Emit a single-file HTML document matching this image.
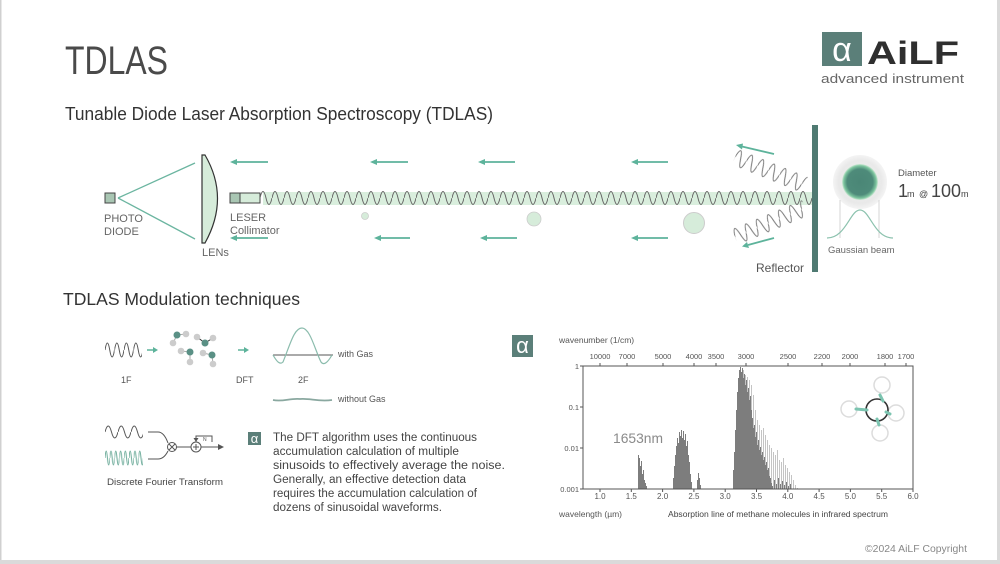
<!DOCTYPE html>
<html><head><meta charset="utf-8"><style>
html,body{margin:0;padding:0;background:#fff;}
svg{display:block;}
text{font-family:"Liberation Sans",sans-serif;}
</style></head><body>
<svg width="1000" height="564" viewBox="0 0 1000 564" xmlns="http://www.w3.org/2000/svg">
<defs>
<pattern id="w1" patternUnits="userSpaceOnUse" x="260" y="190" width="12" height="16"><path d="M0,8 Q3,-5 6,8 T12,8" fill="none" stroke="#666" stroke-width="1"/></pattern>
<pattern id="w2" patternUnits="userSpaceOnUse" x="0" y="-10" width="12" height="20"><path d="M0,10 Q3,-6 6,10 T12,10" fill="none" stroke="#777" stroke-width="1"/></pattern>
<pattern id="w3" patternUnits="userSpaceOnUse" x="105" y="424" width="13" height="16"><path d="M0,8 Q3.25,-4 6.5,8 T13,8" fill="none" stroke="#555" stroke-width="1"/></pattern>
<pattern id="w4" patternUnits="userSpaceOnUse" x="105" y="449" width="4.8" height="18"><path d="M0,9 Q1.2,-5 2.4,9 T4.8,9" fill="none" stroke="#6aaa98" stroke-width="1"/></pattern>
<pattern id="w5" patternUnits="userSpaceOnUse" x="105" y="341" width="9.5" height="18"><path d="M0,9 Q2.375,-5 4.75,9 T9.5,9" fill="none" stroke="#555" stroke-width="1"/></pattern>
<radialGradient id="halo" cx="0.5" cy="0.5" r="0.5"><stop offset="0" stop-color="#efefef"/><stop offset="0.8" stop-color="#e9e9e9"/><stop offset="1" stop-color="#f4f4f4"/></radialGradient>
<radialGradient id="core" cx="0.5" cy="0.5" r="0.5"><stop offset="0" stop-color="#4a8676"/><stop offset="0.72" stop-color="#4e8b7a"/><stop offset="0.9" stop-color="#7cc49e"/><stop offset="1" stop-color="#cfead6"/></radialGradient>
</defs>
<rect width="1000" height="564" fill="#fff"/>
<rect x="0" y="0" width="1.5" height="564" fill="#d0d0d0"/>
<rect x="997" y="0" width="3" height="564" fill="#dadada"/>
<rect x="0" y="560" width="1000" height="4" fill="#dadada"/>

<!-- Title -->
<text x="65" y="74" font-size="40" fill="#4a4a4a" textLength="103" lengthAdjust="spacingAndGlyphs">TDLAS</text>
<text x="65" y="120" font-size="18" fill="#333" textLength="428" lengthAdjust="spacingAndGlyphs">Tunable Diode Laser Absorption Spectroscopy (TDLAS)</text>

<!-- Logo -->
<rect x="822" y="32" width="40" height="34" fill="#5b7f79"/>
<text x="842" y="61" font-size="34" fill="#fff" text-anchor="middle">α</text>
<text x="867" y="64" font-size="32" font-weight="bold" fill="#2f2f2f" textLength="92" lengthAdjust="spacingAndGlyphs">AiLF</text>
<text x="821" y="83" font-size="13" fill="#666" textLength="143" lengthAdjust="spacingAndGlyphs">advanced instrument</text>

<!-- Photodiode -->
<rect x="105" y="193" width="10" height="10" fill="#a9c6b3" stroke="#444" stroke-width="1"/>
<line x1="118" y1="198" x2="195" y2="163" stroke="#6bb5a0" stroke-width="1.3"/>
<line x1="118" y1="198" x2="195" y2="239" stroke="#6bb5a0" stroke-width="1.3"/>
<text x="104" y="222" font-size="11" fill="#666">PHOTO</text>
<text x="104" y="235" font-size="11" fill="#666">DIODE</text>
<!-- Lens -->
<path d="M202,155 L205,155 Q230,198 205,243 L202,243 Z" fill="#d6ecda" stroke="#333" stroke-width="1.2"/>
<text x="202" y="256" font-size="11" fill="#666">LENs</text>
<!-- Laser -->
<rect x="230" y="193" width="10" height="10" fill="#a9c6b3" stroke="#444" stroke-width="1"/>
<rect x="240" y="193" width="20" height="10" fill="#d6ecda" stroke="#444" stroke-width="1"/>
<text x="230" y="221" font-size="11" fill="#666">LESER</text>
<text x="230" y="234" font-size="11" fill="#666">Collimator</text>

<!-- beam -->
<rect x="263" y="192" width="549" height="13" fill="#d9eedd"/>
<rect x="260" y="190" width="552" height="16" fill="url(#w1)"/>

<!-- arrows -->
<g stroke="#5db39b" stroke-width="1.8" fill="#5db39b">
<line x1="236" y1="162" x2="268" y2="162"/><polygon points="230,162 237,159 237,165" stroke="none"/>
<line x1="376" y1="162" x2="408" y2="162"/><polygon points="370,162 377,159 377,165" stroke="none"/>
<line x1="484" y1="162" x2="515" y2="162"/><polygon points="478,162 485,159 485,165" stroke="none"/>
<line x1="637" y1="162" x2="668" y2="162"/><polygon points="631,162 638,159 638,165" stroke="none"/>
<line x1="236" y1="238" x2="268" y2="238"/><polygon points="230,238 237,235 237,241" stroke="none"/>
<line x1="380" y1="238" x2="410" y2="238"/><polygon points="374,238 381,235 381,241" stroke="none"/>
<line x1="486" y1="238" x2="517" y2="238"/><polygon points="480,238 487,235 487,241" stroke="none"/>
<line x1="637" y1="238" x2="668" y2="238"/><polygon points="631,238 638,235 638,241" stroke="none"/>
<line x1="742" y1="146.5" x2="774" y2="154"/><polygon points="736,145 743,143.5 742,149.5" stroke="none"/>
<line x1="748" y1="245" x2="774" y2="238"/><polygon points="742,246.5 747,242 749,248" stroke="none"/>
</g>

<!-- particles -->
<circle cx="365" cy="216" r="3.5" fill="#d6ecda" stroke="#ccc" stroke-width="0.8"/>
<circle cx="534" cy="219" r="7" fill="#d6ecda" stroke="#ccc" stroke-width="0.8"/>
<circle cx="694" cy="223" r="10.5" fill="#d6ecda" stroke="#ccc" stroke-width="1"/>

<!-- reflected waves -->
<g transform="translate(735,157) rotate(21.8)"><rect x="0" y="-10" width="75" height="20" fill="url(#w2)"/></g>
<g transform="translate(735,237) rotate(-22.5)"><rect x="0" y="-10" width="76" height="20" fill="url(#w2)"/></g>

<!-- reflector -->
<rect x="812" y="125" width="6" height="147" fill="#4f7a72"/>
<text x="756" y="272" font-size="12" fill="#555">Reflector</text>

<!-- gaussian beam -->
<circle cx="860" cy="182" r="27" fill="url(#halo)"/>
<circle cx="860" cy="182" r="18" fill="url(#core)"/>
<line x1="840" y1="200" x2="840" y2="238" stroke="#d4d4d4" stroke-width="1"/>
<line x1="879" y1="200" x2="879" y2="238" stroke="#d4d4d4" stroke-width="1"/>
<path d="M827,238 C846,238 850,210 860,210 C870,210 874,238 893,238" fill="none" stroke="#8cc2ae" stroke-width="1.2"/>
<text x="828" y="253" font-size="9.5" fill="#666">Gaussian beam</text>
<text x="898" y="176" font-size="9.5" fill="#555">Diameter</text>
<text y="197" fill="#444"><tspan x="898" font-size="18">1</tspan><tspan x="907" font-size="9">m</tspan><tspan x="919" font-size="9">@</tspan><tspan x="931" font-size="18">100</tspan><tspan x="961" font-size="9">m</tspan></text>

<!-- Modulation -->
<text x="63" y="305" font-size="17.5" fill="#333" textLength="237" lengthAdjust="spacingAndGlyphs">TDLAS Modulation techniques</text>

<rect x="105" y="341" width="37" height="18" fill="url(#w5)"/>
<g stroke="#5db39b" stroke-width="1.5" fill="#5db39b">
<line x1="147" y1="350" x2="154" y2="350"/><polygon points="158,350 153,347 153,353" stroke="none"/>
<line x1="238" y1="350" x2="245" y2="350"/><polygon points="249,350 244,347 244,353" stroke="none"/>
</g>
<!-- molecules -->
<g stroke="#aaa" stroke-width="1">
<line x1="177" y1="335" x2="186" y2="334"/><line x1="177" y1="335" x2="173" y2="343"/>
<line x1="197" y1="337" x2="205" y2="343" stroke="#333"/><line x1="205" y1="343" x2="213" y2="338" stroke="#333"/>
<line x1="181" y1="351" x2="190" y2="352"/><line x1="190" y1="352" x2="190" y2="362"/>
<line x1="203" y1="353" x2="212" y2="355"/><line x1="212" y1="355" x2="213" y2="364"/>
</g>
<g fill="#ccc">
<circle cx="186" cy="334" r="3.3"/><circle cx="173" cy="343" r="3.3"/>
<circle cx="197" cy="337" r="3.3"/><circle cx="213" cy="338" r="3.3"/>
<circle cx="181" cy="351" r="3.3"/><circle cx="190" cy="362" r="3.3"/>
<circle cx="203" cy="353" r="3.3"/><circle cx="213" cy="364" r="3.3"/>
</g>
<g fill="#5a9085">
<circle cx="177" cy="335" r="3.5"/><circle cx="205" cy="343" r="3.5"/><circle cx="190" cy="352" r="3.5"/><circle cx="212" cy="355" r="3.5"/>
</g>
<text x="121" y="383" font-size="9" fill="#555">1F</text>
<text x="236" y="383" font-size="9" fill="#555">DFT</text>
<text x="298" y="383" font-size="9" fill="#555">2F</text>
<line x1="273" y1="355" x2="333" y2="355" stroke="#555" stroke-width="1"/>
<path d="M273,355 C277,362 280,365 283,362 C290,345 294,328 302,328 C310,328 315,350 321,362 C324,366 328,362 332,355" fill="none" stroke="#8bbcad" stroke-width="1.2"/>
<text x="338" y="357" font-size="9" fill="#555">with Gas</text>
<path d="M273,400 C283,402 290,398 300,399 C310,398 318,402 332,400" fill="none" stroke="#8aa8a0" stroke-width="1.8"/>
<text x="338" y="402" font-size="9" fill="#555">without Gas</text>

<!-- DFT diagram -->
<rect x="105" y="424" width="38" height="16" fill="url(#w3)"/>
<rect x="105" y="449" width="38" height="18" fill="url(#w4)"/>
<g fill="none" stroke="#555" stroke-width="1">
<path d="M148,432 H158 Q164,432 168,443"/>
<path d="M148,459 H158 Q164,459 168,451"/>
<circle cx="172" cy="447" r="4.5"/>
<path d="M169,444 L175,450 M175,444 L169,450"/>
<line x1="176.5" y1="447" x2="191" y2="447"/>
<circle cx="196" cy="447" r="5"/>
<path d="M196,444 V450 M193,447 H199"/>
<line x1="201" y1="447" x2="219" y2="447"/>
<path d="M196,442 V436 H212 V442"/>
</g>
<polygon points="224,447 218,444 218,450" fill="#555"/>
<polygon points="196,442 193.5,438 198.5,438" fill="#555"/>
<text x="203" y="441" font-size="5" fill="#555">N</text>
<text x="107" y="485" font-size="9" fill="#444" textLength="116" lengthAdjust="spacingAndGlyphs">Discrete Fourier Transform</text>

<rect x="248" y="432" width="13" height="13" fill="#5b7f79"/>
<text x="254.5" y="443" font-size="13" fill="#fff" text-anchor="middle">α</text>
<g font-size="11.5" fill="#444">
<text x="273" y="441" textLength="204" lengthAdjust="spacingAndGlyphs">The DFT algorithm uses the continuous</text>
<text x="273" y="455" textLength="186" lengthAdjust="spacingAndGlyphs">accumulation calculation of multiple</text>
<text x="273" y="469" textLength="232" lengthAdjust="spacingAndGlyphs">sinusoids to effectively average the noise.</text>
<text x="273" y="483" textLength="193" lengthAdjust="spacingAndGlyphs">Generally, an effective detection data</text>
<text x="273" y="497" textLength="204" lengthAdjust="spacingAndGlyphs">requires the accumulation calculation of</text>
<text x="273" y="511" textLength="169" lengthAdjust="spacingAndGlyphs">dozens of sinusoidal waveforms.</text>
</g>

<!-- Chart -->
<rect x="512" y="335" width="21" height="22" fill="#5b7f79"/>
<text x="522.5" y="353" font-size="22" fill="#fff" text-anchor="middle">α</text>
<text x="559" y="343" font-size="8.5" fill="#555">wavenumber (1/cm)</text>
<g font-size="7.5" fill="#555" text-anchor="middle">
<text x="600" y="359">10000</text><text x="627" y="359">7000</text><text x="663" y="359">5000</text>
<text x="694" y="359">4000</text><text x="716" y="359">3500</text><text x="746" y="359">3000</text>
<text x="788" y="359">2500</text><text x="822" y="359">2200</text><text x="850" y="359">2000</text>
<text x="885" y="359">1800</text><text x="906" y="359">1700</text>
</g>
<g stroke="#555" stroke-width="1">
<path d="M600,366 v-3 M627,366 v-3 M663,366 v-3 M694,366 v-3 M716,366 v-3 M746,366 v-3 M788,366 v-3 M822,366 v-3 M850,366 v-3 M885,366 v-3 M906,366 v-3"/>
<path d="M600,489 v3 M631.3,489 v3 M662.6,489 v3 M693.9,489 v3 M725.2,489 v3 M756.5,489 v3 M787.8,489 v3 M819.1,489 v3 M850.4,489 v3 M881.7,489 v3 M913,489 v3"/>
<path d="M583,366 h-3 M583,407 h-3 M583,448 h-3 M583,489 h-3"/>
</g>
<g font-size="7.5" fill="#555" text-anchor="end">
<text x="579" y="369">1</text><text x="579" y="410">0.1</text><text x="579" y="451">0.01</text><text x="579" y="492">0.001</text>
</g>
<g font-size="8" fill="#555" text-anchor="middle">
<text x="600" y="499">1.0</text><text x="631.3" y="499">1.5</text><text x="662.6" y="499">2.0</text><text x="693.9" y="499">2.5</text>
<text x="725.2" y="499">3.0</text><text x="756.5" y="499">3.5</text><text x="787.8" y="499">4.0</text><text x="819.1" y="499">4.5</text>
<text x="850.4" y="499">5.0</text><text x="881.7" y="499">5.5</text><text x="913" y="499">6.0</text>
</g>
<text x="559" y="517" font-size="8.5" fill="#555">wavelength (µm)</text>
<text x="668" y="517" font-size="8" fill="#444" textLength="220" lengthAdjust="spacingAndGlyphs">Absorption line of methane molecules in infrared spectrum</text>

<!-- spectrum -->
<path stroke="#c4c4c4" stroke-width="1" fill="none" d="M741.5 489V372M743.5 489V370M745.5 489V375M747.5 489V377M749.5 489V380M751.5 489V385M753.5 489V395M755.5 489V410M757.5 489V420M759.5 489V425M761.5 489V430M763.5 489V428M765.5 489V435M767.5 489V440M769.5 489V445M771.5 489V448M773.5 489V452M775.5 489V455M777.5 489V450M779.5 489V460M781.5 489V462M783.5 489V458M785.5 489V465M787.5 489V468M789.5 489V472M791.5 489V475M793.5 489V480M795.5 489V485M797.5 489V488"/>
<path stroke="#7d7d7d" stroke-width="1" fill="none" d="M638.5 489V455M639.5 489V458M640.5 489V466M641.5 489V461M642.5 489V474M643.5 489V470M644.5 489V480M645.5 489V483M646.5 489V486M673.5 489V478M674.5 489V466M675.5 489V455M676.5 489V446M677.5 489V438M678.5 489V443M679.5 489V432M680.5 489V436M681.5 489V430M682.5 489V438M683.5 489V431M684.5 489V440M685.5 489V434M686.5 489V446M687.5 489V441M688.5 489V455M689.5 489V462M690.5 489V474M691.5 489V482M697.5 489V480M698.5 489V473M699.5 489V478M700.5 489V485M733.5 489V470M734.5 489V452M735.5 489V430M736.5 489V410M737.5 489V392M738.5 489V378M739.5 489V370M740.5 489V367M741.5 489V372M742.5 489V368M743.5 489V378M744.5 489V374M745.5 489V385M746.5 489V380M747.5 489V392M748.5 489V388M749.5 489V400M750.5 489V396M751.5 489V410M752.5 489V418M753.5 489V428M754.5 489V425M755.5 489V437M756.5 489V432M757.5 489V445M758.5 489V440M759.5 489V450M760.5 489V447M761.5 489V455M762.5 489V452M763.5 489V460M764.5 489V457M765.5 489V465M766.5 489V462M767.5 489V470M768.5 489V468M769.5 489V476M770.5 489V478M771.5 489V483M772.5 489V486M774.5 489V480M776.5 489V484M778.5 489V478M780.5 489V484M782.5 489V481M784.5 489V485M786.5 489V482M788.5 489V486M790.5 489V484"/>
<rect x="583" y="366" width="330" height="123" fill="none" stroke="#555" stroke-width="1"/>
<text x="613" y="443" font-size="14" fill="#8a8a8a" textLength="50" lengthAdjust="spacingAndGlyphs">1653nm</text>

<!-- methane icon -->
<g fill="#fff" stroke="#dcdcdc" stroke-width="1.5">
<circle cx="882" cy="385" r="8"/><circle cx="849" cy="409" r="8"/><circle cx="896" cy="413" r="8"/><circle cx="880" cy="433" r="8"/>
</g>
<circle cx="877" cy="410" r="11" fill="none" stroke="#333" stroke-width="1.6"/>
<g stroke="#7cc4b0" stroke-width="3" stroke-linecap="round">
<line x1="880" y1="395" x2="883" y2="401"/><line x1="856" y1="409" x2="867" y2="410"/>
<line x1="886" y1="412" x2="890" y2="414"/><line x1="877" y1="419" x2="879" y2="425"/>
</g>

<text x="865" y="552" font-size="10" fill="#888" textLength="102" lengthAdjust="spacingAndGlyphs">©2024 AiLF Copyright</text>
</svg>
</body></html>
